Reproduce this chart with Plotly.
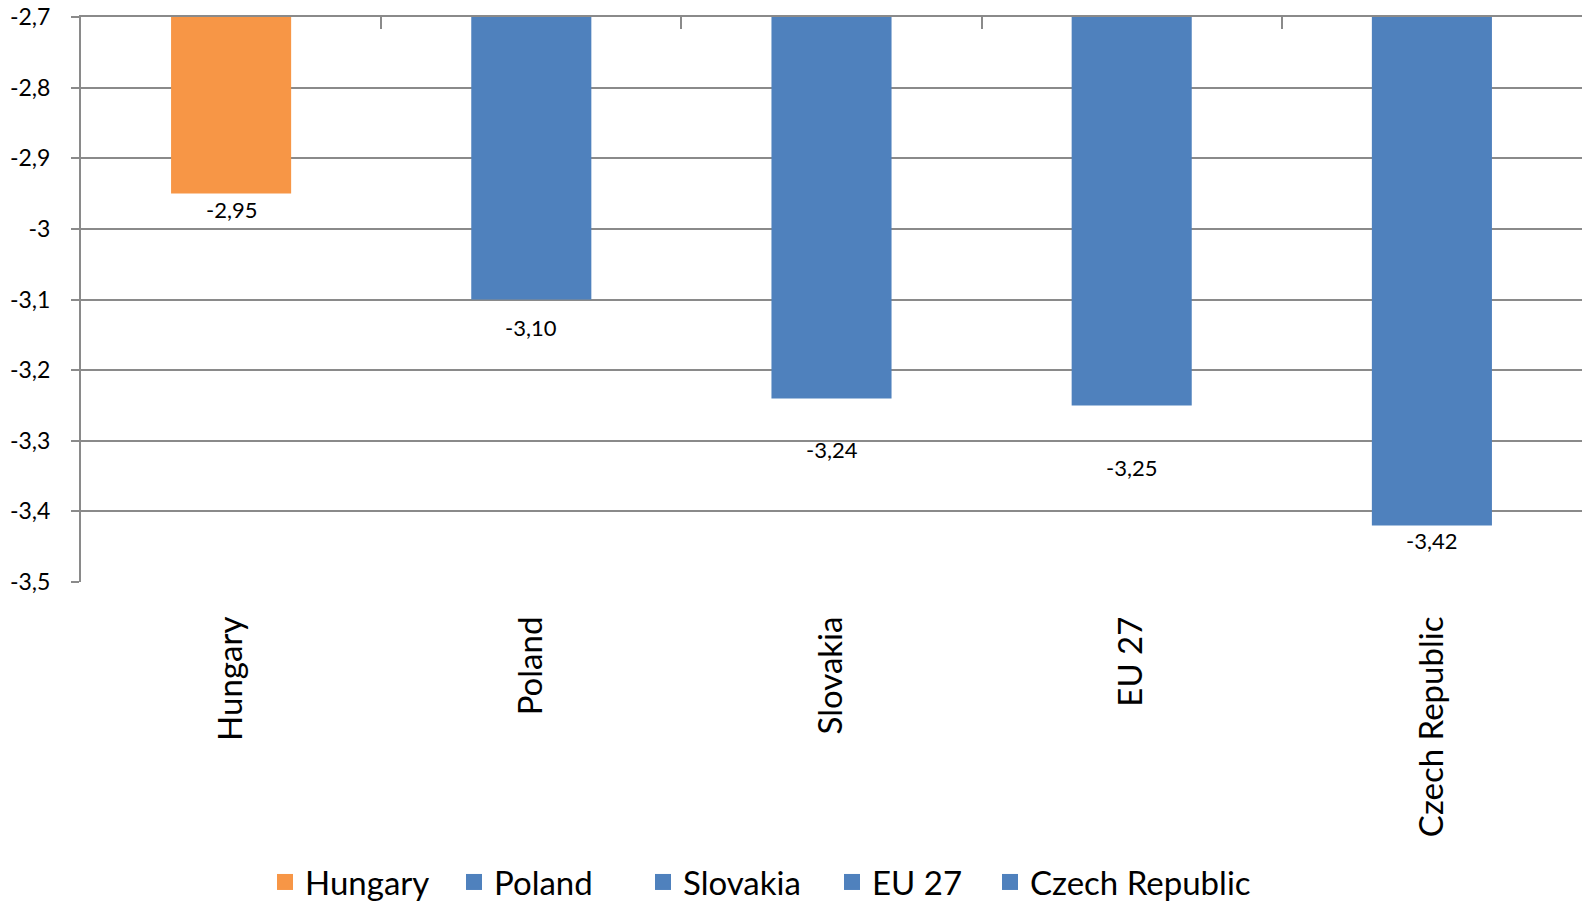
import plotly.graph_objects as go

# values
countries = ["Hungary", "Poland", "Slovakia", "EU 27", "Czech Republic"]
values = [-2.95, -3.10, -3.24, -3.25, -3.42]
bar_colors = ["#F79646", "#4F81BD", "#4F81BD", "#4F81BD", "#4F81BD"]
y_ticks = [-2.7, -2.8, -2.9, -3.0, -3.1, -3.2, -3.3, -3.4, -3.5]
y_tick_labels = ["-2,7", "-2,8", "-2,9", "-3", "-3,1", "-3,2", "-3,3", "-3,4", "-3,5"]

AXIS_BASE = -2.7
GRID = "#8a8a8a"
FONT = "Lato, 'Noto Sans', sans-serif"
# the labels in the original sit at uneven distances below the bars
label_offsets = [16, 28, 51, 62, 15]

fig = go.Figure()

for name, v, c in zip(countries, values, bar_colors):
    fig.add_trace(go.Bar(
        x=[name],
        y=[v - AXIS_BASE],
        base=AXIS_BASE,
        name=name,
        marker_color=c,
        marker_line_width=0,
        width=0.4,
        hoverinfo="skip",
        showlegend=False,
    ))

# legend entries with bigger square swatches than the bar icons;
# last entry goes to a second legend so its long text is not clipped
for i, (name, c) in enumerate(zip(countries, bar_colors)):
    fig.add_trace(go.Scatter(
        x=[None], y=[None], name=name, mode="markers",
        marker=dict(symbol="square", size=18, color=c),
        hoverinfo="skip",
        legend="legend2" if i == len(countries) - 1 else "legend",
    ))

# dummy trace so the top category axis (line + boundary ticks) gets drawn
fig.add_trace(go.Scatter(
    x=countries, y=[None] * len(countries), xaxis="x2",
    showlegend=False, hoverinfo="skip", mode="markers",
))

for name, v, off in zip(countries, values, label_offsets):
    fig.add_annotation(
        x=name, y=v, text=f"{v:.2f}".replace(".", ","),
        showarrow=False, yshift=-off, yanchor="middle",
        font=dict(size=22, color="#000000", family=FONT),
    )

legend_common = dict(
    orientation="h",
    y=-0.531, yanchor="middle",
    font=dict(size=33, family=FONT),
    itemsizing="trace",
    traceorder="normal",
    bgcolor="rgba(0,0,0,0)",
)

fig.update_layout(
    width=1587,
    height=903,
    barmode="overlay",
    paper_bgcolor="white",
    plot_bgcolor="white",
    font=dict(family=FONT, color="#000000"),
    margin=dict(l=81, r=5, t=17, b=321, autoexpand=False),
    showlegend=True,
    legend=dict(legend_common, x=0.1226, xanchor="left",
                entrywidth=144, entrywidthmode="pixels"),
    legend2=dict(legend_common, x=0.6056, xanchor="left"),
    xaxis=dict(
        type="category",
        categoryorder="array",
        categoryarray=countries,
        range=[-0.5, 4.5],
        showgrid=False,
        showline=False,
        zeroline=False,
        ticks="",
        tickangle=-90,
        tickfont=dict(size=33, family=FONT),
        ticklabelstandoff=27,
        automargin=False,
    ),
    xaxis2=dict(
        type="category",
        categoryorder="array",
        categoryarray=countries,
        range=[-0.5, 4.5],
        overlaying="x",
        side="top",
        showline=True,
        linecolor=GRID,
        linewidth=2,
        ticks="inside",
        tickson="boundaries",
        ticklen=12,
        tickwidth=2,
        tickcolor=GRID,
        showticklabels=False,
        showgrid=False,
        zeroline=False,
    ),
    yaxis=dict(
        range=[-3.5, -2.7],
        tickvals=y_ticks,
        ticktext=y_tick_labels,
        showgrid=True,
        gridcolor=GRID,
        gridwidth=2,
        showline=True,
        linecolor=GRID,
        linewidth=2,
        ticks="outside",
        ticklen=8,
        tickwidth=2,
        tickcolor=GRID,
        zeroline=False,
        tickfont=dict(size=23, family=FONT),
        ticklabelstandoff=16,
        ticklabeloverflow="allow",
        automargin=False,
    ),
)

# drop the browser's default body margin so the figure sits at the page corner
fig.write_html(
    "out.html",
    config={"displayModeBar": False},
    post_script="document.body.style.margin='0px';",
)
